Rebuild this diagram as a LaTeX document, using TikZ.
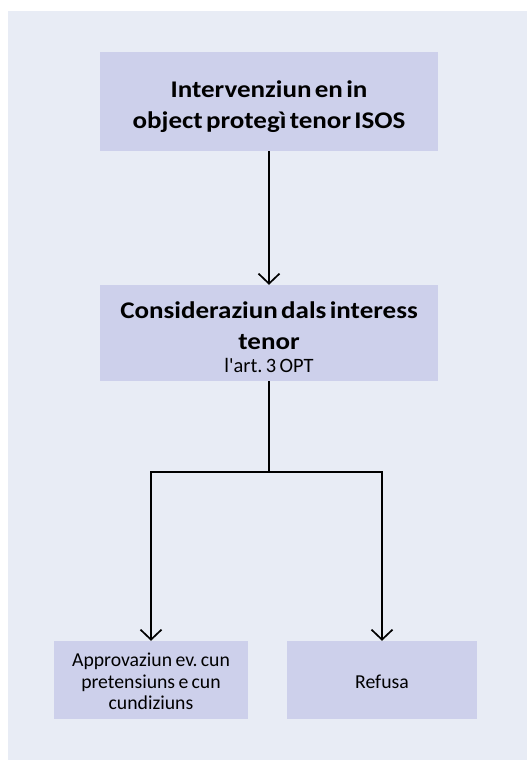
\documentclass[tikz,border=0pt]{standalone}
\usepackage{fontspec}
\setmainfont{Carlito}[Ligatures=TeXOff,BoldFeatures={FakeStretch=1.13,WordSpace=1.3}]
\usetikzlibrary{arrows.meta}
\definecolor{panelbg}{RGB}{232,236,245}
\definecolor{boxfill}{RGB}{205,208,235}
\frenchspacing
\begin{document}
\begin{tikzpicture}[x=1bp,y=-1bp,
  box/.style={fill=boxfill,inner sep=0pt,anchor=center},
  txt/.style={inner sep=0pt,align=center,anchor=center},
  conn/.style={line width=1.7bp,black},
  arr/.style={conn,-{Straight Barb[length=10bp,width=21bp,line width=1.7bp]}}]
\useasboundingbox (0,0) rectangle (527,760);
\fill[white] (0,0) rectangle (527,760);
\fill[panelbg] (8,11) rectangle (527,760);
\node[box,minimum width=338bp,minimum height=99bp] (b1) at (269,101.5) {};
\node[box,minimum width=338bp,minimum height=96bp] (b2) at (269,333) {};
\node[box,minimum width=193bp,minimum height=78bp] (l) at (151,680) {};
\node[box,minimum width=190bp,minimum height=78bp] (r) at (382,680) {};
\node[txt,text width=338bp] (t1) at ([yshift=-5bp]b1.center)
  {\fontsize{24}{31.5}\selectfont\bfseries Intervenziun en in\\ object protegì tenor ISOS\par};
\node[txt,text width=338bp] (t2) at ([yshift=-4bp]b2.center)
  {{\fontsize{24}{31}\selectfont\bfseries Consideraziun dals interess\\ tenor\par}{\fontsize{20.5}{23}\selectfont l'art. 3 OPT\par}};
\node[txt,text width=193bp] (tl) at ([yshift=-1.5bp]l.center)
  {\fontsize{19.8}{21.5}\selectfont Approvaziun ev. cun\\ pretensiuns e cun\\ cundiziuns\par};
\node[txt,text width=190bp] (tr) at ([yshift=-1.5bp]r.center)
  {\fontsize{19.8}{21.5}\selectfont Refusa\par};
\coordinate (j) at (269,472);
\draw[arr] (b1.south) -- (b2.north);
\draw[conn] (b2.south) -- (j);
\draw[arr] (j) -| (l.north);
\draw[arr] (j) -| (r.north);
\end{tikzpicture}
\end{document}
